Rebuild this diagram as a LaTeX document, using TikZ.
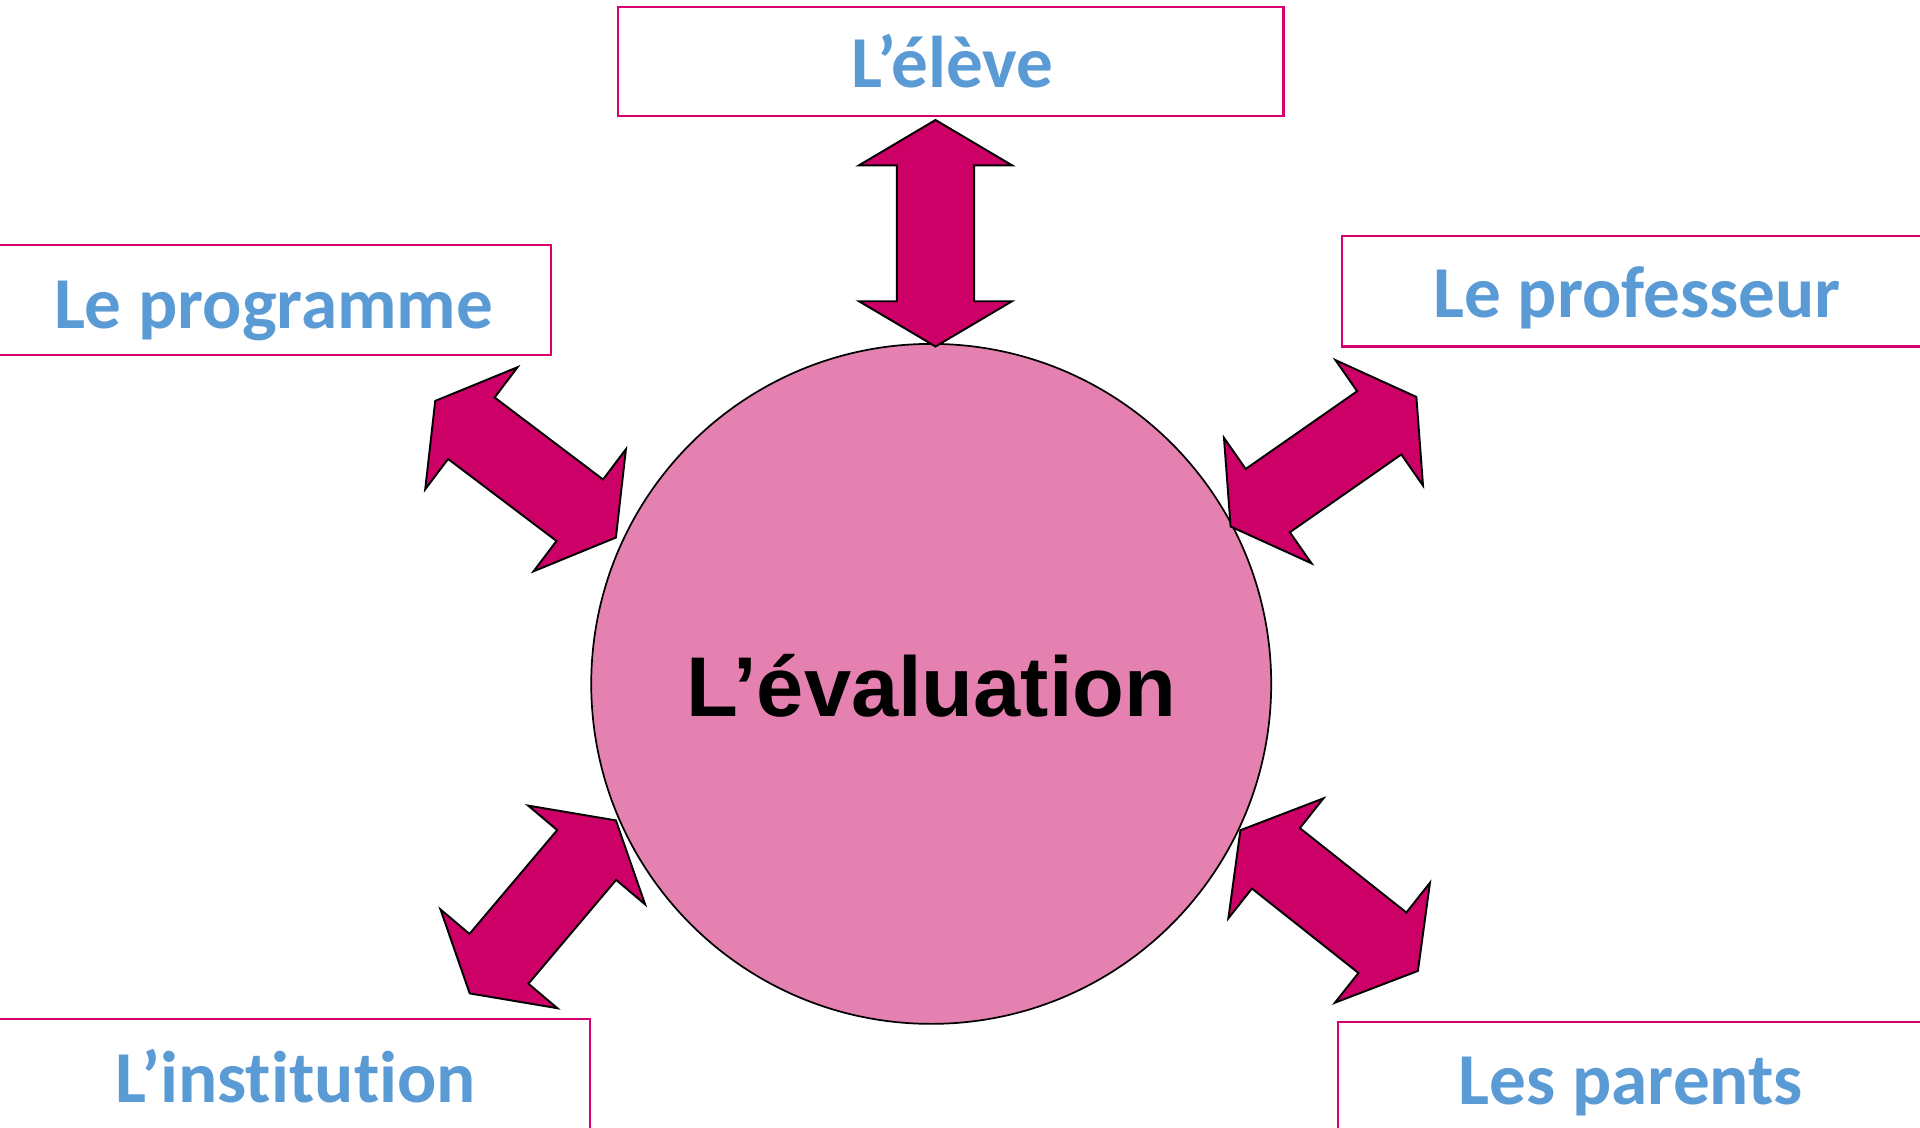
\documentclass[tikz,border=0pt]{standalone}
\usepackage{fontspec}
\newfontfamily\carlito[Ligatures=NoCommon]{Carlito}
\newfontfamily\libsans{Liberation Sans}
\definecolor{arrowpink}{HTML}{CC0066}
\definecolor{circlepink}{HTML}{E481B0}
\definecolor{boxline}{HTML}{D6006E}
\definecolor{labelblue}{HTML}{5B9BD5}
\tikzset{
  box/.style={draw=boxline, line width=0.5pt, fill=white, rectangle, inner sep=0pt},
  lab/.style={font=\carlito\bfseries\fontsize{17}{20}\selectfont, text=labelblue, inner sep=0pt, anchor=base},
  arrowstyle/.style={draw=black, fill=arrowpink, line width=0.45pt, line join=miter},
  dblarrow/.pic={
    \draw[arrowstyle] (0,0) -- (37,62.5) -- (37,31.5) -- (148,31.5) -- (148,62.5)
      -- (185,0) -- (148,-62.5) -- (148,-31.5) -- (37,-31.5) -- (37,-62.5) -- cycle;
    \coordinate (-a) at (0,0);
    \coordinate (-b) at (185,0);
  }
}
\begin{document}
\begin{tikzpicture}[x=0.01cm, y=-0.01cm]
  \useasboundingbox (0,0) rectangle (1568,920.4);
  \clip (0,0) rectangle (1568,920.4);
  \fill[white] (0,0) rectangle (1568,920.4);

  % boxes
  \node[box, minimum width=5.43cm, minimum height=0.89cm] (beleve) at (776.5,50.5) {};
  \node[box, minimum width=4.60cm, minimum height=0.90cm] (bprog) at (220,245) {};
  \node[box, minimum width=4.94cm, minimum height=0.90cm] (bprof) at (1343,238) {};
  \node[box, minimum width=4.92cm, minimum height=1.08cm] (binst) at (236,886) {};
  \node[box, minimum width=4.97cm, minimum height=1.05cm] (bpar) at (1341.5,887.5) {};

  % labels
  \node[lab] (televe) at (778,71.5) {L’élève};
  \node[lab] (tprog) at (223.5,268) {Le programme};
  \node[lab] (tprof) at (1337,259) {Le professeur};
  \node[lab] (tinst) at (241.5,900) {L’institution};
  \node[lab] (tpar) at (1332,902) {Les parents};

  % central circle
  \node[circle, draw=black, line width=0.4pt, fill=circlepink, minimum size=5.55cm, inner sep=0pt,
        font=\libsans\bfseries\fontsize{19.7}{23}\selectfont, text height=15.1pt, text depth=0pt]
        (eval) at (760.5,558.5) {L’évaluation};

  % double block arrows
  \pic[rotate=90] (aeleve) at (764,283) {dblarrow};
  \pic[rotate=142.9] (aprog) at (503,439) {dblarrow};
  \pic[rotate=34.9] (aprof) at (1005,430) {dblarrow};
  \pic[rotate=-130.2] (ainst) at (503,670) {dblarrow};
  \pic[rotate=-38.4] (apar) at (1013,678) {dblarrow};
\end{tikzpicture}
\end{document}
